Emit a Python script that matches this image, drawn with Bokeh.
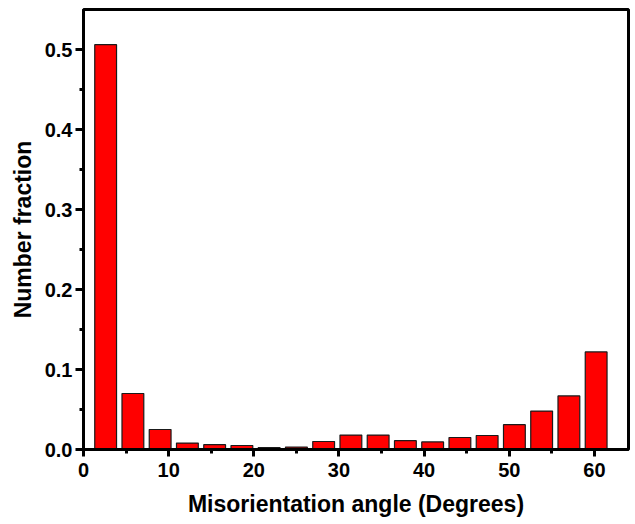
from bokeh.plotting import figure
from bokeh.models import Range1d, FixedTicker, CustomJSTickFormatter
from bokeh.embed import file_html
from bokeh.resources import INLINE

# Data
bin_centers = [2.6, 5.8, 9.0, 12.2, 15.4, 18.6, 21.8, 25.0, 28.2, 31.4,
               34.6, 37.8, 41.0, 44.2, 47.4, 50.6, 53.8, 57.0, 60.2]
fractions = [0.506, 0.070, 0.025, 0.008, 0.006, 0.005, 0.0025, 0.003, 0.010, 0.018,
             0.018, 0.011, 0.0095, 0.015, 0.0175, 0.031, 0.048, 0.067, 0.122]
bar_width = 2.56
x_ticks = [0, 10, 20, 30, 40, 50, 60]
x_minor = [5, 15, 25, 35, 45, 55]
y_ticks = [0.0, 0.1, 0.2, 0.3, 0.4, 0.5]
y_minor = [0.05, 0.15, 0.25, 0.35, 0.45]
x_label = "Misorientation angle (Degrees)"
y_label = "Number fraction"

FONT = "Liberation Sans"

p = figure(width=635, height=524, output_backend="svg", toolbar_location=None,
           x_range=Range1d(0, 64), y_range=Range1d(0, 0.55),
           min_border_left=83, min_border_top=9, min_border_right=7, min_border_bottom=75)

p.vbar(x=bin_centers, top=fractions, width=bar_width, bottom=0,
       fill_color="#ff0000", line_color="#1a1a1a", line_width=1.2)

p.xgrid.visible = False
p.ygrid.visible = False
p.outline_line_color = "black"
p.outline_line_width = 3
p.outline_line_alpha = 1.0
p.background_fill_color = "white"
p.border_fill_color = "white"

xa = p.xaxis[0]
xa.ticker = FixedTicker(ticks=x_ticks, minor_ticks=x_minor)
xa.axis_label = x_label
ya = p.yaxis[0]
ya.ticker = FixedTicker(ticks=y_ticks, minor_ticks=y_minor)
ya.axis_label = y_label
ya.formatter = CustomJSTickFormatter(code="return tick.toFixed(1);")

for ax in (xa, ya):
    ax.axis_line_width = 3
    ax.axis_line_color = "black"
    ax.major_tick_line_width = 3
    ax.major_tick_line_color = "black"
    ax.minor_tick_line_width = 3
    ax.minor_tick_line_color = "black"
    ax.major_tick_in = 0
    ax.minor_tick_in = 0
    ax.major_label_text_font = FONT
    ax.major_label_text_font_style = "bold"
    ax.major_label_text_font_size = "20px"
    ax.major_label_text_color = "black"
    ax.axis_label_text_font = FONT
    ax.axis_label_text_font_style = "bold"
    ax.axis_label_text_font_size = "23px"
    ax.axis_label_text_color = "black"

xa.major_tick_out = 7
xa.minor_tick_out = 4
xa.major_label_standoff = 6
xa.axis_label_standoff = 11
xa.axis_label_text_line_height = 0.8
ya.major_tick_out = 8
ya.minor_tick_out = 4
ya.major_label_standoff = 3
ya.axis_label_standoff = 6

open("out.html", "w").write(file_html(p, INLINE))
